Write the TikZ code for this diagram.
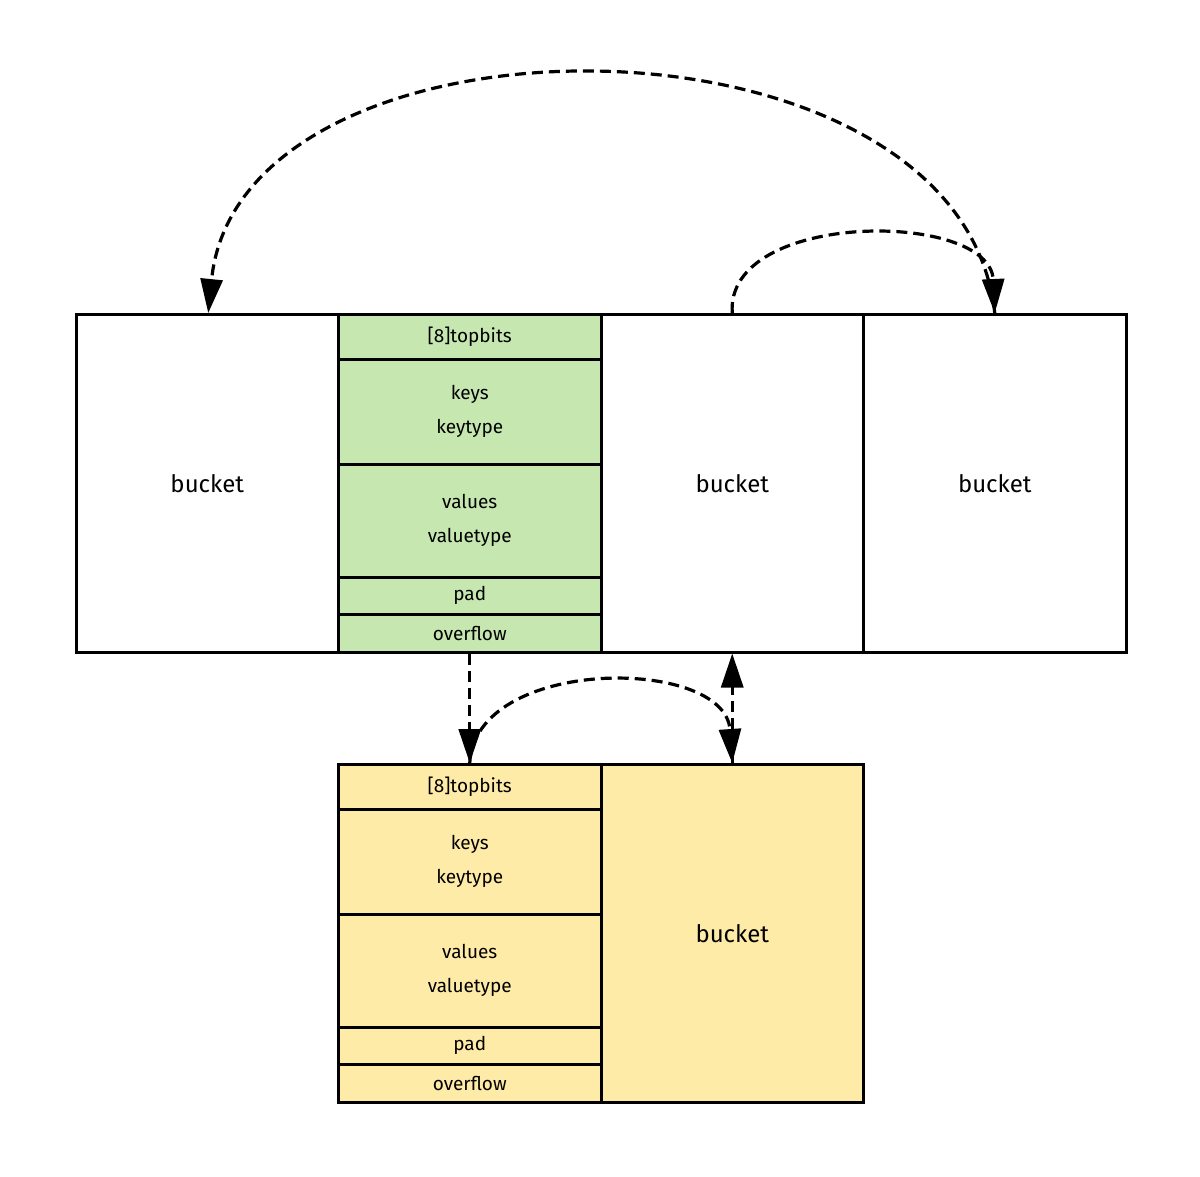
\documentclass[tikz,border=0pt]{standalone}
\usepackage{fontspec}
\setmainfont{Fira Sans}
\usetikzlibrary{arrows.meta}
\definecolor{gr}{HTML}{C6E8B0}
\definecolor{yl}{HTML}{FFEBA8}
\begin{document}
\begin{tikzpicture}[x=1pt,y=-1pt,
  cell/.style={draw,line width=2.5pt,inner sep=0pt,anchor=north west,align=center,font=\fontsize{19}{26}\selectfont},
  big/.style={cell,font=\fontsize{24}{28}\selectfont},
  link/.style={line width=3.2pt,dash pattern=on 11pt off 6pt,-{Triangle[length=34pt,width=22pt]}}]
\useasboundingbox (0,0) rectangle (1200,1176);
% top row
\node[big,minimum width=262pt,minimum height=338pt] (b1) at (75,313) {bucket};
\node[big,minimum width=262pt,minimum height=338pt] (b3) at (600,313) {bucket};
\node[big,minimum width=263pt,minimum height=338pt] (b4) at (862,313) {bucket};
\node[cell,fill=gr,minimum width=263pt,minimum height=45pt] (t1) at (337,313) {[8]topbits};
\node[cell,fill=gr,minimum width=263pt,minimum height=105pt] (k1) at (337,358) {keys\\[8]keytype};
\node[cell,fill=gr,minimum width=263pt,minimum height=113pt] (v1) at (337,463) {values\\[8]valuetype};
\node[cell,fill=gr,minimum width=263pt,minimum height=37pt] (p1) at (337,576) {pad};
\node[cell,fill=gr,minimum width=263pt,minimum height=38pt] (o1) at (337,613) {overflow};
% bottom row
\node[big,fill=yl,minimum width=262pt,minimum height=338pt] (b5) at (600,763) {bucket};
\node[cell,fill=yl,minimum width=263pt,minimum height=45pt] (t2) at (337,763) {[8]topbits};
\node[cell,fill=yl,minimum width=263pt,minimum height=105pt] (k2) at (337,808) {keys\\[8]keytype};
\node[cell,fill=yl,minimum width=263pt,minimum height=113pt] (v2) at (337,913) {values\\[8]valuetype};
\node[cell,fill=yl,minimum width=263pt,minimum height=37pt] (p2) at (337,1026) {pad};
\node[cell,fill=yl,minimum width=263pt,minimum height=38pt] (o2) at (337,1063) {overflow};
% connectors
\coordinate (b1t) at ([xshift=1pt]b1.north);
\coordinate (b4t) at (b4.north);
\coordinate (b3t) at (b3.north);
\draw[link] (b4t) .. controls (960,-4) and (240,-4) .. (b1t);
\draw[link] (b3t) .. controls (725,210) and (990,210) .. (b4t);
\draw[link] (o1.south) -- (t2.north);
\draw[link] (t2.north) .. controls (475,656) and (725,656) .. (b5.north);
\draw[link] (b5.north) -- (b3.south);
\end{tikzpicture}
\end{document}
